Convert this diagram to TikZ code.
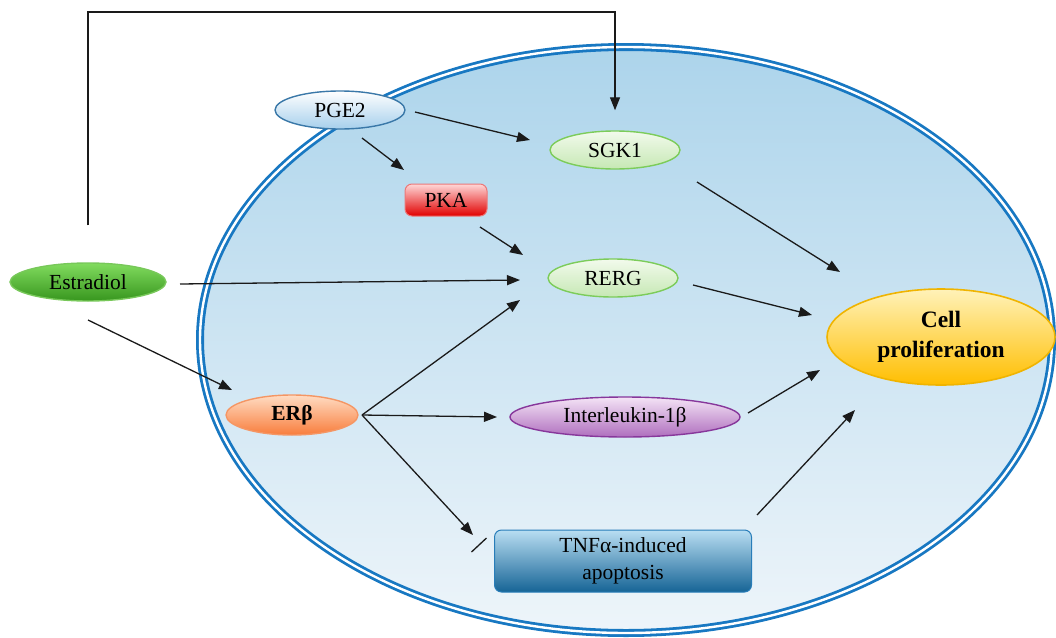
\documentclass[tikz,border=0pt]{standalone}
\usepackage{fontspec}
\setmainfont{Liberation Serif}
\usetikzlibrary{arrows.meta,calc,shapes.geometric}
\definecolor{cellline}{HTML}{1878C2}
\definecolor{linec}{HTML}{1A1A1A}
\definecolor{pgeline}{HTML}{3A78A8}
\definecolor{pgebot}{HTML}{A6CFEC}
\definecolor{grline}{HTML}{7CCC5A}
\definecolor{grtop}{HTML}{F2FAEC}
\definecolor{grbot}{HTML}{C6E8B4}
\tikzset{
  txt/.style={font=\fontsize{21.5}{27}\selectfont, text=black, inner sep=0pt, align=center},
  oval/.style={ellipse, txt, line width=1.4pt},
  box/.style={rectangle, rounded corners=7pt, txt, line width=1pt},
  arr/.style={draw=linec, line width=1.3pt, -{Triangle[length=13pt,width=10pt]}},
  plain/.style={draw=linec, line width=1.3pt},
  pgestyle/.style={oval, draw=pgeline, top color=white, bottom color=pgebot, minimum width=130pt, minimum height=38pt},
  greenov/.style={oval, draw=grline, top color=grtop, bottom color=grbot, minimum width=130pt, minimum height=38pt},
}
\begin{document}
\begin{tikzpicture}[x=1pt,y=-1pt]
\useasboundingbox (0,0) rectangle (1056,637);
% cell
\path[top color={rgb,255:red,172;green,212;blue,235}, bottom color={rgb,255:red,238;green,245;blue,250}]
  (626,340) ellipse [x radius=429, y radius=296];
\draw[draw=cellline, line width=2.8pt, double=white, double distance=2.4pt]
  (626,340) ellipse [x radius=426, y radius=293];

% nodes
\node[pgestyle] (pge) at (340,110) {PGE2};
\node[greenov] (sgk) at (615,150) {SGK1};
\node[greenov] (rerg) at (613,278) {RERG};
\node[box, draw={rgb,255:red,235;green,120;blue,120}, top color={rgb,255:red,255;green,215;blue,215}, bottom color={rgb,255:red,225;green,0;blue,0}, minimum width=82pt, minimum height=32pt] (pka) at (446,200) {PKA};
\node[oval, draw={rgb,255:red,120;green,200;blue,90}, top color={rgb,255:red,130;green,220;blue,95}, bottom color={rgb,255:red,55;green,150;blue,30}, minimum width=156pt, minimum height=38pt] (estr) at (88,282) {Estradiol};
\node[oval, draw={rgb,255:red,245;green,150;blue,100}, top color={rgb,255:red,255;green,220;blue,195}, bottom color={rgb,255:red,248;green,125;blue,60}, minimum width=132pt, minimum height=40pt, font=\fontsize{21.5}{27}\selectfont\bfseries] (erb) at (292,415) {ERβ};
\node[oval, draw={rgb,255:red,135;green,55;blue,155}, top color={rgb,255:red,244;green,228;blue,246}, bottom color={rgb,255:red,175;green,110;blue,190}, minimum width=230pt, minimum height=40pt] (il) at (625,417) {Interleukin-1β};
\node[box, draw={rgb,255:red,40;green,125;blue,185}, top color={rgb,255:red,185;green,222;blue,242}, bottom color={rgb,255:red,22;green,100;blue,150}, minimum width=257pt, minimum height=62pt] (tnf) at (623,561) {TNFα-induced\\apoptosis};
\node[oval, draw={rgb,255:red,240;green,180;blue,0}, line width=1.6pt, top color={rgb,255:red,255;green,242;blue,185}, bottom color={rgb,255:red,255;green,190;blue,0}, minimum width=228pt, minimum height=96pt, font=\fontsize{23.5}{30}\selectfont\bfseries] (cell) at (941,337) {Cell\\proliferation};

% connectors
\coordinate (top) at (300,12);
\draw[arr, shorten <=37pt, shorten >=20pt] (estr.north) |- (top) -| (sgk.north);
\draw[arr] ($(pge)+(75,2)$) -- ($(sgk)+(-85,-10)$);
\draw[arr] ($(pge)+(22,28)$) -- ($(pka)+(-42,-30)$);
\draw[arr] ($(pka)+(34,27)$) -- ($(rerg)+(-90,-23)$);
\draw[arr] ($(estr)+(92,2)$) -- ($(rerg)+(-93,2)$);
\draw[arr] ($(estr)+(0,38)$) -- ($(erb)+(-60,-25)$);
\draw[arr] ($(sgk)+(82,32)$) -- ($(cell)+(-101,-65)$);
\draw[arr] ($(rerg)+(80,7)$) -- ($(cell)+(-129,-22)$);
\draw[arr] ($(erb)+(70,0)$) -- ($(rerg)+(-93,22)$);
\draw[arr] ($(erb)+(70,0)$) -- ($(il)+(-128,0)$);
\coordinate (inhib) at ($(tnf)+(-144,-16)$);
\draw[arr] ($(erb)+(70,0)$) -- ($(tnf)+(-150,-26)$);
\draw[plain] ($(inhib)+(-7.5,7)$) -- ($(inhib)+(7.5,-7)$);
\draw[arr] ($(il)+(123,-4)$) -- ($(cell)+(-121,33)$);
\draw[arr] ($(tnf)+(134,-46)$) -- ($(cell)+(-86,73)$);
\end{tikzpicture}
\end{document}
